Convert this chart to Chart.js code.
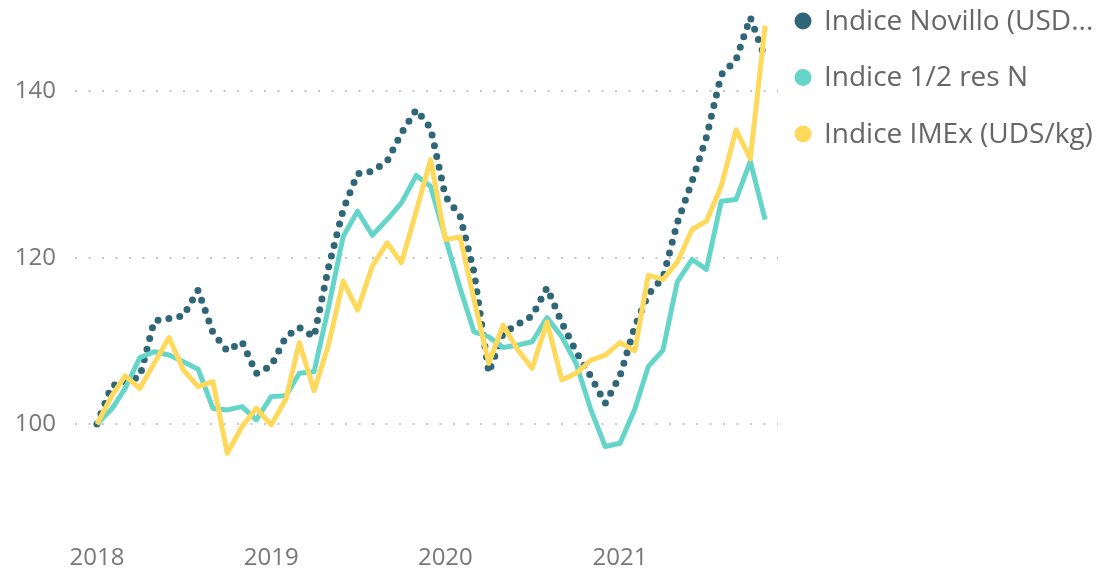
<!DOCTYPE html>
<html>
<head>
<meta charset="utf-8">
<script src="https://cdn.jsdelivr.net/npm/chart.js@4.4.1/dist/chart.umd.min.js"></script>
<style>
html,body{margin:0;padding:0;background:#fff;}
#wrap{position:relative;width:1106px;height:571px;}
</style>
</head>
<body>
<div id="wrap"><canvas id="c"></canvas></div>
<script>
// ---- data ----
const months = [
  '2018-01','2018-02','2018-03','2018-04','2018-05','2018-06','2018-07','2018-08','2018-09','2018-10','2018-11','2018-12',
  '2019-01','2019-02','2019-03','2019-04','2019-05','2019-06','2019-07','2019-08','2019-09','2019-10','2019-11','2019-12',
  '2020-01','2020-02','2020-03','2020-04','2020-05','2020-06','2020-07','2020-08','2020-09','2020-10','2020-11','2020-12',
  '2021-01','2021-02','2021-03','2021-04','2021-05','2021-06','2021-07','2021-08','2021-09','2021-10','2021-11'
];
const seriesNames = ['Indice Novillo (USD...', 'Indice 1/2 res N', 'Indice IMEx (UDS/kg)'];
const novillo = [
  100.0, 104.6, 105.1, 105.7, 112.4, 112.7, 113.0, 116.1, 111.0, 108.8, 109.9, 106.1,
  107.0, 110.5, 111.6, 110.5, 118.8, 125.8, 130.1, 130.4, 131.6, 135.0, 137.8, 135.6,
  127.4, 125.0, 118.3, 106.2, 110.9, 112.0, 113.0, 116.4, 112.2, 108.7, 105.7, 102.5,
  105.8, 111.7, 115.6, 117.6, 124.2, 129.2, 134.5, 142.0, 143.8, 148.9, 144.0
];
const mediaRes = [
  100.0, 101.8, 104.3, 108.0, 108.7, 108.3, 107.5, 106.6, 101.9, 101.7, 102.1, 100.5,
  103.3, 103.4, 106.1, 106.3, 114.0, 122.6, 125.6, 122.7, 124.6, 126.6, 129.9, 128.6,
  122.4, 116.3, 111.1, 110.5, 109.2, 109.5, 109.9, 112.8, 110.5, 107.3, 101.7, 97.3,
  97.7, 101.8, 106.9, 108.9, 117.1, 119.8, 118.6, 126.8, 127.0, 131.6, 124.6
];
const imex = [
  100.0, 103.4, 105.8, 104.3, 107.3, 110.4, 106.5, 104.5, 105.1, 96.5, 99.7, 101.9,
  99.9, 103.0, 109.8, 104.0, 109.5, 117.2, 113.7, 119.0, 121.8, 119.4, 125.6, 131.8,
  122.2, 122.5, 115.0, 107.3, 111.9, 108.9, 106.7, 112.3, 105.3, 106.1, 107.7, 108.3,
  109.8, 108.8, 117.9, 117.4, 119.5, 123.4, 124.4, 128.6, 135.4, 131.9, 147.9
];
const yearLabels = ['2018', '2019', '2020', '2021'];
const yTickValues = [100, 120, 140];

// ---- helpers ----
const DAY = 86400000;
const origin = Date.UTC(2018, 0, 1);
function dayOf(ym) {
  const [y, m] = ym.split('-').map(Number);
  return (Date.UTC(y, (m || 1) - 1, 1) - origin) / DAY;
}
function pts(arr) { return arr.map((v, i) => ({ x: dayOf(months[i]), y: v })); }

const COL_DARK = '#2f6778';
const COL_TEAL = '#66d5c9';
const COL_YEL = '#fed95c';
const FONT = '"Open Sans", "Noto Sans", sans-serif';

const sideLegend = {
  id: 'sideLegend',
  afterDraw(chart) {
    const ctx = chart.ctx;
    const x0 = chart.chartArea.right + 25;
    ctx.save();
    ctx.font = '28px ' + FONT;
    ctx.textBaseline = 'middle';
    ctx.textAlign = 'left';
    chart.data.datasets.forEach((ds, i) => {
      const y = 21 + i * 56.5;
      ctx.fillStyle = ds.legendColor;
      ctx.beginPath();
      ctx.arc(x0, y, 8.5, 0, Math.PI * 2);
      ctx.fill();
      ctx.fillStyle = '#666666';
      ctx.fillText(ds.label, x0 + 21, y + 1);
    });
    ctx.restore();
  }
};

new Chart(document.getElementById('c'), {
  type: 'line',
  data: {
    datasets: [
      { label: seriesNames[0], data: pts(novillo), borderColor: COL_DARK, legendColor: COL_DARK,
        borderWidth: 7, borderDash: [0, 11], borderCapStyle: 'round', borderJoinStyle: 'round', order: 2 },
      { label: seriesNames[1], data: pts(mediaRes), borderColor: COL_TEAL, legendColor: COL_TEAL,
        borderWidth: 5, borderJoinStyle: 'round', order: 1 },
      { label: seriesNames[2], data: pts(imex), borderColor: COL_YEL, legendColor: COL_YEL,
        borderWidth: 5, borderJoinStyle: 'round', order: 0 }
    ]
  },
  options: {
    responsive: true,
    maintainAspectRatio: false,
    animation: false,
    elements: { point: { radius: 0, hoverRadius: 0 }, line: { tension: 0, fill: false } },
    layout: { padding: { left: 0, right: 328, top: 0, bottom: 0 } },
    plugins: { legend: { display: false }, tooltip: { enabled: false } },
    scales: {
      x: {
        type: 'linear',
        min: -46,
        max: 1427,
        grid: { display: false, drawTicks: false },
        border: { display: false },
        afterBuildTicks: (s) => { s.ticks = yearLabels.map(y => ({ value: dayOf(y + '-01') })); },
        afterFit: (s) => { s.height = 43; s.paddingLeft = 0; s.paddingRight = 0; },
        ticks: {
          autoSkip: false, maxRotation: 0, padding: 16,
          color: '#777777', font: { family: FONT, size: 24 },
          callback: (v, i) => yearLabels[i]
        }
      },
      y: {
        type: 'linear',
        min: 87.5,
        max: 151,
        afterBuildTicks: (s) => { s.ticks = yTickValues.map(v => ({ value: v })); },
        afterFit: (s) => { s.width = 75; s.paddingTop = 0; s.paddingBottom = 0; },
        grid: { color: '#c6c6c6', lineWidth: 2, drawTicks: false },
        border: { display: false, dash: [2, 11.5] },
        ticks: {
          padding: 19,
          color: '#777777', font: { family: FONT, size: 24 }
        }
      }
    }
  },
  plugins: [sideLegend]
});
</script>
</body>
</html>
